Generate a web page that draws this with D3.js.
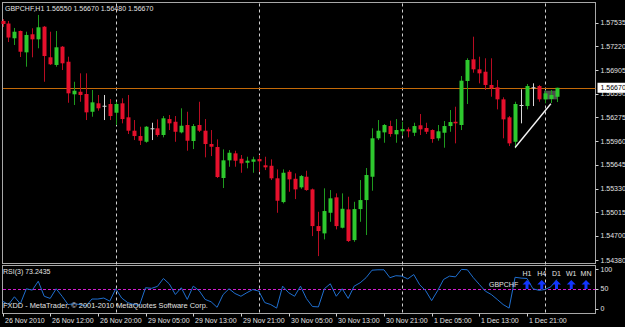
<!DOCTYPE html>
<html>
<head>
<meta charset="utf-8">
<script src="https://cdn.jsdelivr.net/npm/d3@7"></script>
<style>
  body { margin: 0; background: #000; }
  text { font-family: "Liberation Sans", Arial, sans-serif; font-size: 7px; fill: #e2e2e2; }
</style>
</head>
<body>
<svg id="chart"></svg>
<script>
'use strict';

// GBPCHF H1 bars (oldest first)
const opens = [1.57558, 1.57524, 1.57328, 1.57425, 1.57141, 1.57381, 1.57314, 1.57482, 1.57075, 1.56973,
  1.57216, 1.57016, 1.56583, 1.56617, 1.56587, 1.56351, 1.56463, 1.56431, 1.56454, 1.56338,
  1.56463, 1.56277, 1.56099, 1.56028, 1.55952, 1.56131, 1.56131, 1.56042, 1.56254, 1.56218,
  1.56077, 1.56175, 1.55962, 1.56175, 1.56099, 1.55922, 1.55882, 1.55470, 1.55705, 1.55798,
  1.55726, 1.55673, 1.55686, 1.55722, 1.55639, 1.55633, 1.55466, 1.55150, 1.55553, 1.55460,
  1.55346, 1.55487, 1.55319, 1.54831, 1.54734, 1.55008, 1.55213, 1.54809, 1.55053, 1.54645,
  1.55057, 1.55177, 1.55487, 1.55998, 1.56077, 1.56161, 1.56051, 1.56091, 1.56117, 1.56072,
  1.56171, 1.56135, 1.56108, 1.55998, 1.56072, 1.56161, 1.56218, 1.56175, 1.56760, 1.57048,
  1.56915, 1.56883, 1.56707, 1.56676, 1.56516, 1.56277, 1.55952, 1.56441, 1.56427, 1.56676,
  1.56693, 1.56516, 1.56520, 1.56550];
const highs = [1.57584, 1.57558, 1.57465, 1.57431, 1.57415, 1.57461, 1.57638, 1.57491, 1.57415, 1.57425,
  1.57225, 1.57083, 1.56750, 1.56862, 1.56862, 1.56640, 1.56574, 1.56574, 1.56520, 1.56484,
  1.56530, 1.56574, 1.56241, 1.56152, 1.56161, 1.56205, 1.56250, 1.56294, 1.56308, 1.56294,
  1.56397, 1.56351, 1.56188, 1.56484, 1.56254, 1.56108, 1.55984, 1.55851, 1.55842, 1.55833,
  1.55776, 1.55753, 1.55753, 1.55776, 1.55753, 1.55718, 1.55585, 1.55585, 1.55576, 1.55532,
  1.55510, 1.55567, 1.55330, 1.55021, 1.55333, 1.55310, 1.55266, 1.55266, 1.55221, 1.55154,
  1.55443, 1.55603, 1.56131, 1.56241, 1.56188, 1.56232, 1.56254, 1.56218, 1.56144, 1.56205,
  1.56321, 1.56205, 1.56117, 1.56175, 1.56228, 1.56374, 1.56418, 1.56826, 1.57062, 1.57349,
  1.57083, 1.57062, 1.57062, 1.56773, 1.56543, 1.56294, 1.56484, 1.56649, 1.56720, 1.56729,
  1.56707, 1.56631, 1.56640, 1.56670];
const lows = [1.57478, 1.57278, 1.57239, 1.57079, 1.56950, 1.57075, 1.57195, 1.56750, 1.56973, 1.56950,
  1.56906, 1.56471, 1.56441, 1.56484, 1.56241, 1.56285, 1.56365, 1.56241, 1.56241, 1.56175,
  1.56197, 1.56055, 1.55975, 1.55909, 1.55939, 1.55975, 1.56019, 1.56011, 1.56108, 1.55952,
  1.56064, 1.55833, 1.55855, 1.56081, 1.55745, 1.55762, 1.55470, 1.55337, 1.55620, 1.55620,
  1.55540, 1.55599, 1.55540, 1.55553, 1.55576, 1.55443, 1.55008, 1.55133, 1.55287, 1.55190,
  1.55327, 1.55300, 1.54698, 1.54432, 1.54654, 1.54888, 1.54787, 1.54800, 1.54619, 1.54622,
  1.54888, 1.54712, 1.55301, 1.55975, 1.55939, 1.56019, 1.55939, 1.56042, 1.56011, 1.56028,
  1.56042, 1.56055, 1.55939, 1.55966, 1.55873, 1.56085, 1.55931, 1.56108, 1.56454, 1.56870,
  1.56729, 1.56640, 1.56551, 1.56383, 1.55998, 1.55895, 1.55865, 1.56197, 1.56383, 1.56427,
  1.56484, 1.56463, 1.56467, 1.56480];
const closes = [1.57518, 1.57338, 1.57415, 1.57149, 1.57372, 1.57314, 1.57474, 1.57092, 1.56982, 1.57208,
  1.56995, 1.56596, 1.56631, 1.56574, 1.56343, 1.56476, 1.56397, 1.56431, 1.56294, 1.56454,
  1.56254, 1.56099, 1.56028, 1.55966, 1.56152, 1.56131, 1.56042, 1.56264, 1.56197, 1.56085,
  1.56165, 1.55966, 1.56161, 1.56099, 1.55922, 1.55886, 1.55483, 1.55705, 1.55806, 1.55700,
  1.55665, 1.55700, 1.55718, 1.55692, 1.55612, 1.55466, 1.55168, 1.55540, 1.55452, 1.55319,
  1.55496, 1.55310, 1.54831, 1.54765, 1.55031, 1.55200, 1.54831, 1.55061, 1.54632, 1.55057,
  1.55177, 1.55510, 1.55998, 1.56099, 1.56175, 1.56055, 1.56108, 1.56121, 1.56091, 1.56161,
  1.56117, 1.56085, 1.55988, 1.56091, 1.56161, 1.56214, 1.56197, 1.56764, 1.57039, 1.56915,
  1.56862, 1.56707, 1.56663, 1.56516, 1.56250, 1.55931, 1.56454, 1.56441, 1.56693, 1.56676,
  1.56516, 1.56596, 1.56574, 1.56670];

// RSI(3) per bar
const rsiValues = [18.6, 10, 29.7, 12, 50, 46.5, 69, 31, 25.5, 50,
  31, 10, 12, 10, 6, 24, 24, 26.5, 18.6, 50,
  26.5, 15, 10, 8.5, 52.5, 51, 56, 76, 62, 35.5,
  52.5, 23, 56.6, 45, 23, 17, 3, 35, 50, 38,
  31, 40, 48, 44, 15, 10, 1, 56.6, 40, 31,
  56.6, 25, 5, 4, 50, 62.6, 31, 50, 25.5, 56.6,
  65, 78, 97, 98, 98, 78, 83, 82, 75, 86,
  60, 45, 20, 45, 73.5, 82, 80, 99, 98, 78,
  61, 44, 35.5, 23, 10, 1, 79, 77, 76, 50,
  46, 48, 55, 73.2435];

// axis ticks
const priceTicks = [1.57535, 1.57220, 1.56905, 1.56590, 1.56275, 1.55960, 1.55645, 1.55330, 1.55015, 1.54700, 1.54380];
const rsiTicks = [100, 50, 0];
const timeLabels = ['26 Nov 2010', '26 Nov 12:00', '26 Nov 20:00', '29 Nov 05:00', '29 Nov 13:00', '29 Nov 21:00',
  '30 Nov 05:00', '30 Nov 13:00', '30 Nov 21:00', '1 Dec 05:00', '1 Dec 13:00', '1 Dec 21:00'];
const timeLabelBars = [0, 8, 16, 24, 32, 40, 48, 56, 64, 72, 80, 88];
const daySeparatorBars = [19, 43, 67, 91];

// chart objects: trend line (bar, price) pairs and a rectangle
const trendLine = [[86, 1.55875], [92, 1.56458]];
const boxBars = [91, 93];
const boxPrices = [1.56631, 1.56516];
const bidPrice = 1.56670;

// multi-timeframe arrows panel
const mtfLabels = ['H1', 'H4', 'D1', 'W1', 'MN'];

const W = 625, H = 327;
const svg = d3.select('#chart').attr('width', W).attr('height', H)
  .style('display', 'block').style('background', '#000');

const left = 2, right = 595.5;
const mainTop = 2.5, mainBottom = 263.5;
const rsiTop = 265.5, rsiBottom = 313.5;

const x = d3.scaleLinear().domain([0, 93]).range([2.5, 556.8]);
const y = d3.scaleLinear().domain([1.54380, 1.57535]).range([260, 22.7]);
const ry = d3.scaleLinear().domain([0, 100]).range([308.5, 269]);
const bx = (i) => Math.round(x(i));

// frames
svg.append('rect').attr('x', left + 0.5).attr('y', mainTop).attr('width', right - left - 0.5)
  .attr('height', mainBottom - mainTop).attr('fill', 'none').attr('stroke', '#a8a8a8');
svg.append('rect').attr('x', left + 0.5).attr('y', rsiTop).attr('width', right - left - 0.5)
  .attr('height', rsiBottom - rsiTop).attr('fill', 'none').attr('stroke', '#a8a8a8');

// day separators, dashed, through both windows
svg.selectAll('line.sep').data(daySeparatorBars).join('line')
  .attr('class', 'sep')
  .attr('x1', (d) => bx(d) + 0.5).attr('x2', (d) => bx(d) + 0.5)
  .attr('y1', mainTop + 1).attr('y2', rsiBottom)
  .attr('stroke', '#d0d0d0').attr('stroke-dasharray', '3,3');

// bid line
svg.append('line').attr('x1', left + 1).attr('x2', right)
  .attr('y1', Math.round(y(bidPrice)) + 0.5).attr('y2', Math.round(y(bidPrice)) + 0.5)
  .attr('stroke', '#c46a08');

// rectangle object behind the last bars
svg.append('rect')
  .attr('x', bx(boxBars[0]) - 1).attr('width', bx(boxBars[1]) - bx(boxBars[0]) + 2)
  .attr('y', y(boxPrices[0])).attr('height', y(boxPrices[1]) - y(boxPrices[0]))
  .attr('fill', '#4c4c4c');

// candles
const bars = d3.range(opens.length).map((i) => ({
  i, o: opens[i], h: highs[i], l: lows[i], c: closes[i],
}));
const colour = (d) => (d.c > d.o ? '#2ec82e' : d.c < d.o ? '#e6102c' : '#d8d8d8');
const wickColour = (d) => (d.c > d.o ? '#1e9a1e' : d.c < d.o ? '#b80c22' : '#d8d8d8');

const candle = svg.selectAll('g.bar').data(bars).join('g').attr('class', 'bar');
candle.append('rect')
  .attr('x', (d) => bx(d.i))
  .attr('width', 1)
  .attr('y', (d) => y(d.h))
  .attr('height', (d) => y(d.l) - y(d.h))
  .attr('fill', wickColour);
candle.append('rect')
  .attr('x', (d) => bx(d.i) - 1.5)
  .attr('width', 4)
  .attr('y', (d) => y(Math.max(d.o, d.c)))
  .attr('height', (d) => Math.max(1, Math.abs(y(d.o) - y(d.c))))
  .attr('fill', colour);

// trend line
svg.append('line')
  .attr('x1', x(trendLine[0][0])).attr('y1', y(trendLine[0][1]))
  .attr('x2', x(trendLine[1][0])).attr('y2', y(trendLine[1][1]))
  .attr('stroke', '#f4f4f4').attr('stroke-width', 1.4);

// price axis
svg.selectAll('line.ptick').data(priceTicks).join('line')
  .attr('class', 'ptick')
  .attr('x1', right).attr('x2', right + 3)
  .attr('y1', (d) => Math.round(y(d)) + 0.5).attr('y2', (d) => Math.round(y(d)) + 0.5)
  .attr('stroke', '#d0d0d0');
svg.selectAll('text.plabel').data(priceTicks).join('text')
  .attr('class', 'plabel')
  .attr('x', right + 5).attr('y', (d) => y(d) + 2.5)
  .text((d) => d.toFixed(5));

// current price label
const by = y(bidPrice);
svg.append('rect').attr('x', right + 2).attr('y', by - 5).attr('width', W - right - 2).attr('height', 10)
  .attr('fill', '#fff');
svg.append('text').attr('x', right + 5).attr('y', by + 2.5).style('fill', '#000')
  .text(bidPrice.toFixed(5));

// RSI window
svg.append('line').attr('x1', left + 1).attr('x2', right)
  .attr('y1', Math.round(ry(50)) + 0.5).attr('y2', Math.round(ry(50)) + 0.5)
  .attr('stroke', '#d21cd2').attr('stroke-dasharray', '3,2');
svg.append('path')
  .datum(rsiValues)
  .attr('fill', 'none').attr('stroke', '#1f6fd0').attr('stroke-width', 1)
  .attr('d', d3.line().x((d, i) => x(i)).y((d) => ry(d)));
svg.selectAll('line.rtick').data(rsiTicks).join('line')
  .attr('class', 'rtick')
  .attr('x1', right).attr('x2', right + 3)
  .attr('y1', (d) => Math.round(ry(d)) + 0.5).attr('y2', (d) => Math.round(ry(d)) + 0.5)
  .attr('stroke', '#d0d0d0');
svg.selectAll('text.rlabel').data(rsiTicks).join('text')
  .attr('class', 'rlabel')
  .attr('x', right + 5).attr('y', (d) => ry(d) + 2.5)
  .text((d) => d);

// multi-timeframe arrows
const mtfX = d3.scalePoint().domain(mtfLabels).range([527, 586]);
svg.selectAll('text.mtf').data(mtfLabels).join('text')
  .attr('class', 'mtf')
  .attr('x', (d) => mtfX(d)).attr('y', 275.5).attr('text-anchor', 'middle')
  .text((d) => d);
svg.selectAll('path.arrow').data(mtfLabels).join('path')
  .attr('class', 'arrow')
  .attr('transform', (d) => `translate(${mtfX(d)},280)`)
  .attr('d', 'M0,0 L4.5,4.5 L1.5,4.5 L1.5,9 L-1.5,9 L-1.5,4.5 L-4.5,4.5 Z')
  .attr('fill', '#1236ff');
svg.append('text').attr('x', 489).attr('y', 287).text('GBPCHF');

// time axis
svg.selectAll('line.ttick').data(timeLabelBars).join('line')
  .attr('class', 'ttick')
  .attr('x1', (d) => bx(d) + 0.5).attr('x2', (d) => bx(d) + 0.5)
  .attr('y1', rsiBottom).attr('y2', rsiBottom + 3)
  .attr('stroke', '#d0d0d0');
svg.selectAll('text.tlabel').data(timeLabels).join('text')
  .attr('class', 'tlabel')
  .attr('x', (d, k) => bx(timeLabelBars[k]) + 2).attr('y', 323)
  .text((d) => d);

// captions
const last = opens.length - 1;
svg.append('text').attr('x', 5).attr('y', 10.5)
  .text(`GBPCHF,H1  ${opens[last].toFixed(5)} ${highs[last].toFixed(5)} ${lows[last].toFixed(5)} ${closes[last].toFixed(5)}`);
svg.append('text').attr('x', 3).attr('y', 273.5).text(`RSI(3) ${rsiValues[last].toFixed(4)}`);
svg.append('text').attr('x', 3).attr('y', 308).style('font-size', '7.4px')
  .text('FXDD - MetaTrader, © 2001-2010 MetaQuotes Software Corp.');
</script>
</body>
</html>
